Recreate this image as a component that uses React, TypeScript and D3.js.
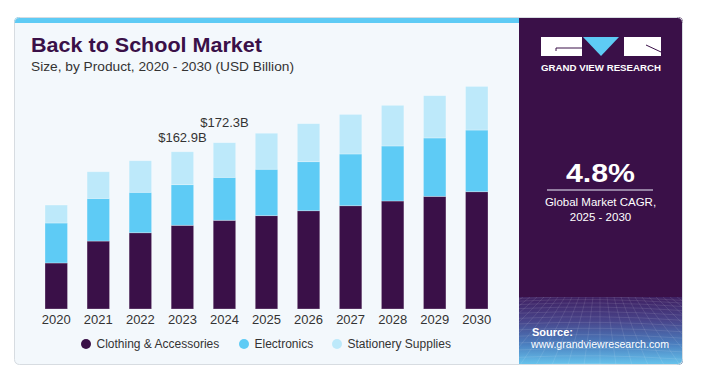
import * as d3 from 'd3';
import React, { useRef, useEffect } from 'react';

// values in USD billion
const years = ['2020', '2021', '2022', '2023', '2024', '2025', '2026', '2027', '2028', '2029', '2030'];
const clothing = [47.7, 70.4, 79.0, 86.7, 91.9, 96.7, 101.8, 107.0, 111.9, 116.7, 121.5];
const electronics = [41.4, 44.2, 41.9, 42.1, 44.5, 48.1, 50.8, 53.6, 57.0, 60.5, 63.9];
const stationery = [18.6, 27.6, 32.7, 34.1, 35.9, 37.3, 39.4, 41.0, 42.1, 43.8, 45.2];
const seriesNames = ['Clothing & Accessories', 'Electronics', 'Stationery Supplies'];
const labelYears = ['2023', '2024'];
const labelTexts = ['$162.9B', '$172.3B'];

const W = 727;
const H = 370;
const PURPLE = '#3a1048';
const CYAN = '#5ecbf5';
const PALE = '#bde9fa';
const FONT = 'Arial, "Liberation Sans", Helvetica, sans-serif';

function App() {
    const ref = useRef(null);

    useEffect(() => {
        const svg = d3.select(ref.current);
        svg.selectAll('*').remove();

        const defs = svg.append('defs');
        defs.append('clipPath').attr('id', 'card')
            .append('rect')
            .attr('x', 14).attr('y', 17).attr('width', 669).attr('height', 348).attr('rx', 5);
        defs.append('clipPath').attr('id', 'mesh')
            .append('rect')
            .attr('x', 519).attr('y', 297).attr('width', 164).attr('height', 68);
        const grad = defs.append('linearGradient').attr('id', 'panelGrad')
            .attr('x1', 0).attr('y1', 0).attr('x2', 0).attr('y2', 1);
        grad.append('stop').attr('offset', 0).attr('stop-color', '#3f2062');
        grad.append('stop').attr('offset', 0.35).attr('stop-color', '#48448a');
        grad.append('stop').attr('offset', 0.7).attr('stop-color', '#4b80c0');
        grad.append('stop').attr('offset', 1).attr('stop-color', '#68c6ee');

        // card
        const card = svg.append('g').attr('clip-path', 'url(#card)');
        card.append('rect').attr('x', 14).attr('y', 17).attr('width', 669).attr('height', 348).attr('fill', '#f3f8fc');
        card.append('rect').attr('x', 14).attr('y', 17).attr('width', 505).attr('height', 6).attr('fill', CYAN);
        card.append('rect').attr('x', 519).attr('y', 17).attr('width', 164).attr('height', 348).attr('fill', PURPLE);
        card.append('rect').attr('x', 519).attr('y', 297).attr('width', 164).attr('height', 68).attr('fill', 'url(#panelGrad)');

        // perspective mesh in the panel footer
        const mesh = card.append('g').attr('clip-path', 'url(#mesh)')
            .attr('stroke', '#ffffff').attr('stroke-opacity', 0.13).attr('stroke-width', 0.8).attr('fill', 'none');
        d3.range(1, 14).forEach(k => {
            const yy = 297 + 68 * Math.pow(k / 13, 1.5);
            mesh.append('path').attr('d', `M519,${yy} Q600,${yy - 4} 683,${yy + 2}`);
        });
        d3.range(-16, 17).forEach(k => {
            mesh.append('path').attr('d', `M${600 + k * 7},297 Q${600 + k * 11},330 ${600 + k * 16},365`);
        });

        svg.append('rect').attr('x', 14.5).attr('y', 17.5).attr('width', 668).attr('height', 347).attr('rx', 5)
            .attr('fill', 'none').attr('stroke', '#d7dce1');

        // titles
        svg.append('text').attr('x', 31).attr('y', 52)
            .attr('font-family', '"Liberation Sans Narrow", ' + FONT).attr('font-weight', 'bold')
            .attr('font-size', 20).attr('fill', PURPLE)
            .attr('textLength', 231).attr('lengthAdjust', 'spacingAndGlyphs')
            .text('Back to School Market');
        svg.append('text').attr('x', 31).attr('y', 71)
            .attr('font-family', FONT).attr('font-size', 13).attr('fill', '#333')
            .attr('textLength', 263).attr('lengthAdjust', 'spacingAndGlyphs')
            .text('Size, by Product, 2020 - 2030 (USD Billion)');

        // scales
        const x = d3.scaleBand().domain(years).range([34.5, 498.5]).paddingInner(0.465).paddingOuter(0.25);
        const y = d3.scaleLinear().domain([0, 240]).range([309, 309 - 240 * 0.9653]);

        const rows = years.map((yr, i) => ({ year: yr, c: clothing[i], e: electronics[i], s: stationery[i] }));
        const stack = d3.stack().keys(['c', 'e', 's'])(rows);
        const colors = [PURPLE, CYAN, PALE];

        svg.append('g').selectAll('g').data(stack).join('g')
            .attr('fill', (d, i) => colors[i])
            .selectAll('rect').data(d => d).join('rect')
            .attr('x', d => x(d.data.year))
            .attr('y', d => y(d[1]))
            .attr('width', x.bandwidth())
            .attr('height', d => y(d[0]) - y(d[1]))
            .attr('stroke', '#ffffff').attr('stroke-opacity', 0.35).attr('stroke-width', 0.8);

        // value labels
        const offsets = [10, 16];
        labelYears.forEach((yr, i) => {
            const j = years.indexOf(yr);
            const total = clothing[j] + electronics[j] + stationery[j];
            svg.append('text')
                .attr('x', x(yr) + x.bandwidth() / 2)
                .attr('y', y(total) - offsets[i])
                .attr('text-anchor', 'middle')
                .attr('font-family', FONT).attr('font-size', 13).attr('fill', '#333')
                .text(labelTexts[i]);
        });

        // x axis
        const xAxis = svg.append('g').attr('transform', 'translate(0,309)')
            .call(d3.axisBottom(x).tickSize(0).tickPadding(6));
        xAxis.select('.domain').remove();
        xAxis.selectAll('text').attr('font-family', FONT).attr('font-size', 13).attr('fill', '#333');

        // legend
        const legendX = [86, 244, 337];
        const legend = svg.append('g').selectAll('g').data(seriesNames).join('g')
            .attr('transform', (d, i) => `translate(${legendX[i]},344)`);
        legend.append('circle').attr('r', 5).attr('fill', (d, i) => colors[i]);
        legend.append('text').attr('x', 10.5).attr('y', 4.3)
            .attr('font-family', FONT).attr('font-size', 12).attr('fill', '#333')
            .text(d => d);

        // right panel: logo
        const logo = svg.append('g');
        logo.append('rect').attr('x', 541).attr('y', 37).attr('width', 41).attr('height', 19).attr('fill', '#fff');
        logo.append('path').attr('d', 'M556,51 V48 H582').attr('stroke', PURPLE).attr('stroke-width', 1).attr('fill', 'none');
        logo.append('path').attr('d', 'M583,37 L619,37 L601,56 Z').attr('fill', CYAN);
        logo.append('rect').attr('x', 624).attr('y', 37).attr('width', 37).attr('height', 19).attr('fill', '#fff');
        logo.append('path').attr('d', 'M646,45 L661,52').attr('stroke', PURPLE).attr('stroke-width', 1).attr('fill', 'none');
        logo.append('text').attr('x', 541).attr('y', 71)
            .attr('font-family', FONT).attr('font-weight', 'bold').attr('font-size', 9).attr('fill', '#fff')
            .attr('textLength', 120).attr('lengthAdjust', 'spacingAndGlyphs')
            .text('GRAND VIEW RESEARCH');

        // CAGR
        svg.append('text').attr('x', 600.5).attr('y', 182).attr('text-anchor', 'middle')
            .attr('font-family', FONT).attr('font-weight', 'bold').attr('font-size', 26).attr('fill', '#fff')
            .attr('textLength', 69).attr('lengthAdjust', 'spacingAndGlyphs')
            .text('4.8%');
        svg.append('line').attr('x1', 547).attr('x2', 653).attr('y1', 190).attr('y2', 190)
            .attr('stroke', '#b2a4bf').attr('stroke-width', 1.5);
        svg.append('text').attr('x', 600.5).attr('y', 206).attr('text-anchor', 'middle')
            .attr('font-family', FONT).attr('font-size', 11.5).attr('fill', '#fff')
            .text('Global Market CAGR,');
        svg.append('text').attr('x', 600.5).attr('y', 221).attr('text-anchor', 'middle')
            .attr('font-family', FONT).attr('font-size', 11.5).attr('fill', '#fff')
            .text('2025 - 2030');

        // source
        svg.append('text').attr('x', 532).attr('y', 336)
            .attr('font-family', FONT).attr('font-weight', 'bold').attr('font-size', 11).attr('fill', '#fff')
            .text('Source:');
        svg.append('text').attr('x', 531).attr('y', 348)
            .attr('font-family', FONT).attr('font-size', 11).attr('fill', '#fff')
            .attr('textLength', 138).attr('lengthAdjust', 'spacingAndGlyphs')
            .text('www.grandviewresearch.com');
    }, []);

    return (
        <svg ref={ref} width={W} height={H}
            style={{ position: 'absolute', left: 0, top: 0, background: '#fff' }}>
        </svg>
    );
}

export default App;
